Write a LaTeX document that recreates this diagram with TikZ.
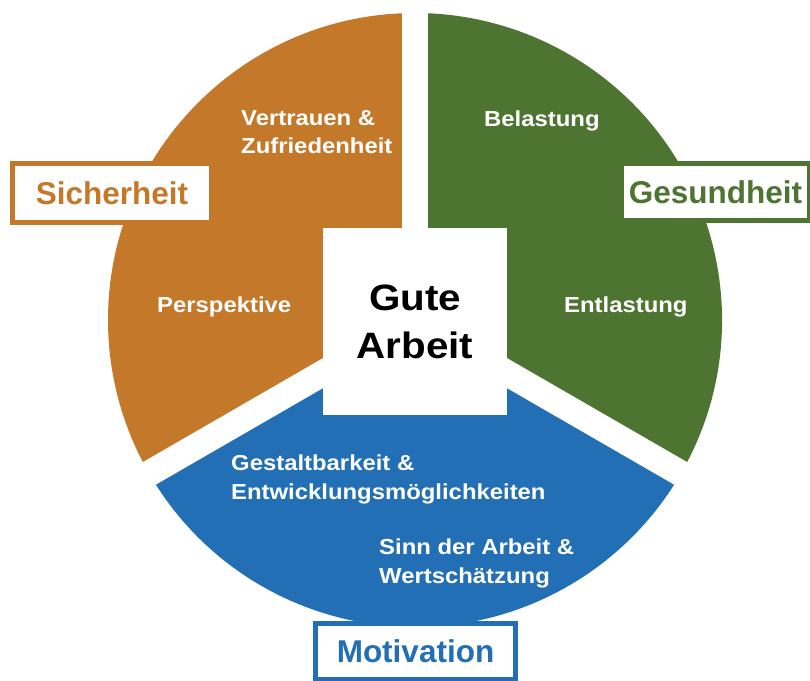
\documentclass[tikz,border=0pt]{standalone}
\usepackage{fontspec}
\setmainfont{Liberation Sans}
\newfontfamily\widefont{Liberation Sans}[FakeStretch=1.1]
\usepackage{tkz-euclide}

\definecolor{orangeS}{HTML}{C4782A}
\definecolor{greenG}{HTML}{4E7431}
\definecolor{blueM}{HTML}{236FB5}

\tikzset{
    gapline/.style={white, line width=26pt},
    sectortext/.style={white, anchor=base west, align=left, inner sep=0pt,
        font=\widefont\bfseries\fontsize{21.7}{28.5}\selectfont},
    labelbox/.style={draw=#1, fill=white, line width=5pt, text=#1, inner sep=0pt,
        font=\bfseries\fontsize{31.5}{36}\selectfont}
}

\begin{document}
\begin{tikzpicture}[x=1pt,y=1pt]
            \useasboundingbox (0,0) rectangle (810,680);
            \def\pieR{307}
            \tkzDefPoint(415,360){O}

            \fill[orangeS] (O) -- ++(90:\pieR) arc (90:210:\pieR) -- cycle;
            \fill[blueM] (O) -- ++(210:\pieR) arc (210:330:\pieR) -- cycle;
            \fill[greenG] (O) -- ++(330:\pieR) arc (330:450:\pieR) -- cycle;

            \draw[gapline] (O) -- ++(90:340);
            \draw[gapline] (O) -- ++(210:340);
            \draw[gapline] (O) -- ++(330:340);

            \node[fill=white, minimum width=184, minimum height=187, inner sep=0pt, align=center,
                font=\widefont\bfseries\fontsize{36.7}{48}\selectfont] (gute) at (415,358.5) {Gute\\Arbeit};

            \node[labelbox=orangeS, minimum width=199, minimum height=59] (sicher) at (112,487) {Sicherheit};
            \node[labelbox=greenG, minimum width=188, minimum height=57] (gesund) at (715.5,488) {Gesundheit};
            \node[labelbox=blueM, minimum width=200, minimum height=56] (motiv) at (415.5,28.5) {Motivation};

            \node[sectortext] (vertrauen) at (241,526) {Vertrauen \&\\Zufriedenheit};
            \node[sectortext] (perspektive) at (157,367) {Perspektive};
            \node[sectortext] (belastung) at (484,553) {Belastung};
            \node[sectortext] (entlastung) at (564,367) {Entlastung};
            \node[sectortext] (gestaltbarkeit) at (231,181) {Gestaltbarkeit \&\\Entwicklungsmöglichkeiten};
            \node[sectortext] (sinn) at (379,97) {Sinn der Arbeit \&\\Wertschätzung};
        \end{tikzpicture}
\end{document}
